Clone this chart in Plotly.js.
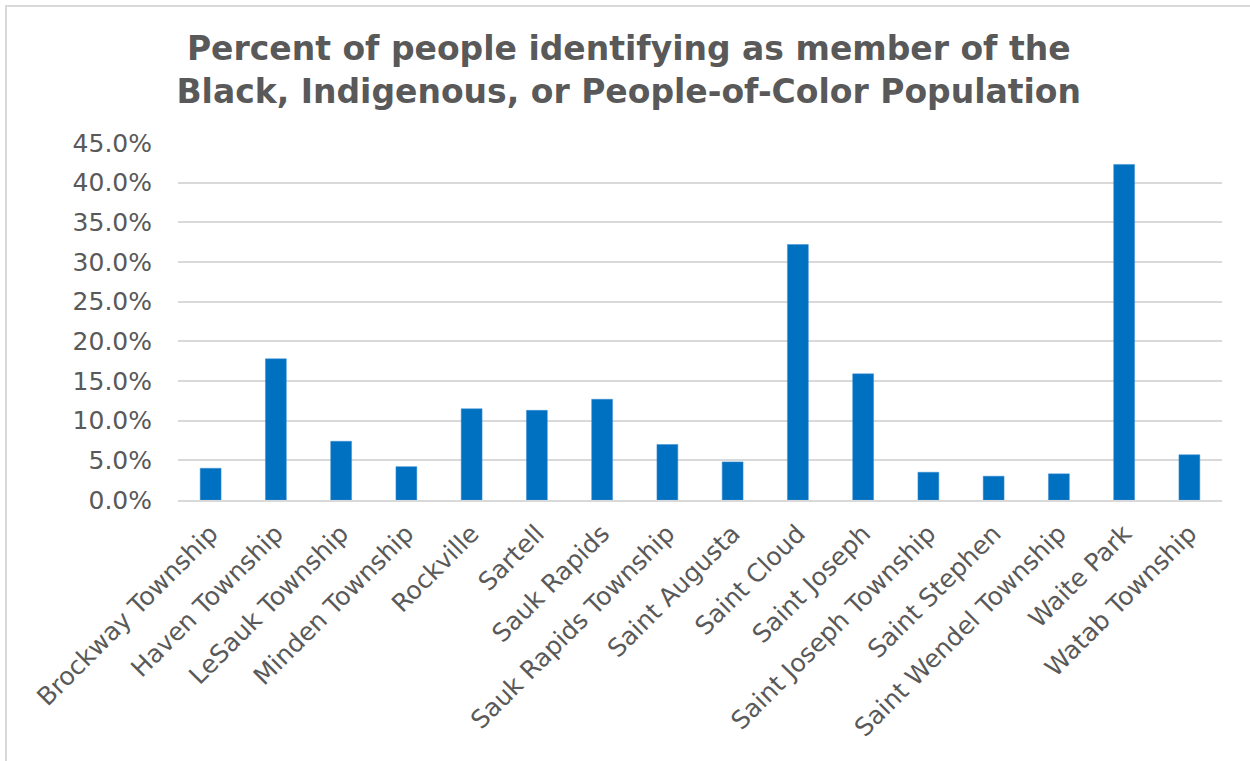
<!DOCTYPE html>
<html>
<head>
<meta charset="utf-8">
<script src="https://cdn.plot.ly/plotly-3.0.1.min.js"></script>
<style>
  html, body { margin: 0; padding: 0; background: #fff; }
  #frame { position: absolute; left: 5px; top: 5px; width: 1260px; height: 770px; border-left: 2px solid #d9d9d9; border-top: 2px solid #d9d9d9; box-sizing: border-box; pointer-events: none; }
  #chart { position: absolute; left: 0; top: 0; width: 1250px; height: 761px; }
</style>
</head>
<body>
<div id="chart"></div>
<div id="frame"></div>
<script>
const categories = [
  "Brockway Township", "Haven Township", "LeSauk Township", "Minden Township",
  "Rockville", "Sartell", "Sauk Rapids", "Sauk Rapids Township",
  "Saint Augusta", "Saint Cloud", "Saint Joseph", "Saint Joseph Township",
  "Saint Stephen", "Saint Wendel Township", "Waite Park", "Watab Township"
];
const percentBIPOC = [
  0.040, 0.178, 0.074, 0.042,
  0.115, 0.113, 0.127, 0.070,
  0.048, 0.322, 0.159, 0.035,
  0.030, 0.033, 0.423, 0.057
];
const yTickValues = [0, 0.05, 0.10, 0.15, 0.20, 0.25, 0.30, 0.35, 0.40, 0.45];

const trace = {
  type: "bar",
  x: categories,
  y: percentBIPOC,
  marker: { color: "#0070c0", line: { color: "#3d8fd6", width: 0.5 } },
  hoverinfo: "x+y"
};

const layout = {
  width: 1250,
  height: 761,
  paper_bgcolor: "#ffffff",
  plot_bgcolor: "#ffffff",
  margin: { l: 178, r: 28, t: 143, b: 261 },
  bargap: 0.68,
  showlegend: false,
  title: {
    text: "Percent of people identifying as member of the<br>Black, Indigenous, or People-of-Color Population",
    font: { family: "DejaVu Sans", size: 33, color: "#595959", weight: "bold" },
    x: 0.503, xanchor: "center",
    y: 1 - 60 / 761, yanchor: "top", yref: "container"
  },
  xaxis: {
    type: "category",
    tickangle: -45,
    tickfont: { family: "DejaVu Sans", size: 25, color: "#595959" },
    showgrid: false,
    showline: true,
    linecolor: "#d9d9d9",
    linewidth: 2,
    ticks: "",
    ticklabelstandoff: 7,
    automargin: false
  },
  yaxis: {
    range: [0, 0.45],
    tickvals: yTickValues,
    tickformat: ".1%",
    tickfont: { family: "DejaVu Sans", size: 25, color: "#595959" },
    showgrid: true,
    gridcolor: "#d9d9d9",
    gridwidth: 2,
    zeroline: false,
    showline: false,
    ticks: "",
    ticklabelstandoff: 25,
    automargin: false
  }
};

Plotly.newPlot("chart", [trace], layout, { displayModeBar: false, staticPlot: true });
</script>
</body>
</html>
